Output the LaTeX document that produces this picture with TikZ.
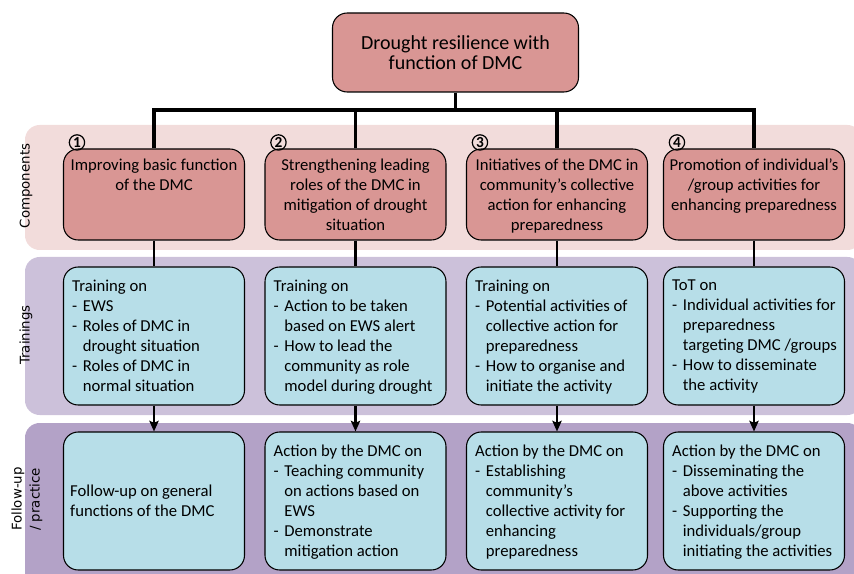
\documentclass[tikz,border=0pt]{standalone}
\usepackage{fontspec}
\setmainfont{Carlito}
\newfontfamily\sidefont{DejaVu Sans}
\usepackage{xcolor}
\usepackage{tikz}
\usetikzlibrary{arrows.meta,calc}

\definecolor{compred}{HTML}{D99694}
\definecolor{compband}{HTML}{F2DCDB}
\definecolor{trainband}{HTML}{CCC1DA}
\definecolor{followband}{HTML}{B3A2C7}
\definecolor{boxblue}{HTML}{B7DEE8}

\newcommand{\itm}{\makebox[8pt][l]{-}}
\newcommand{\hng}{\hspace*{8pt}}

\tikzset{
    band/.style={rounded corners=11pt},
    side/.style={rotate=90,inner sep=0pt,font=\sidefont\fontsize{10}{13.5}\selectfont},
    redbox/.style={draw,line width=0.8pt,fill=compred,rounded corners=11pt},
    compbox/.style={redbox,minimum width=135.75pt,minimum height=68.25pt},
    bluebox/.style={draw,line width=0.8pt,fill=boxblue,rounded corners=11pt,
        minimum width=135.75pt,minimum height=103.5pt},
    ctxt/.style={anchor=north,align=center,inner sep=0pt,font=\fontsize{12.5}{15}\selectfont},
    ltxt/.style={anchor=north west,align=left,inner sep=0pt,font=\fontsize{12.5}{15}\selectfont},
    num/.style={circle,draw,line width=0.9pt,minimum size=11.5pt,inner sep=0pt,
        font=\bfseries\fontsize{11.5}{11.5}\selectfont},
    tree/.style={line width=2.4pt},
    link/.style={line width=2pt}
}

\begin{document}
\begin{tikzpicture}[x=0.75pt,y=-0.75pt]
    \useasboundingbox (0,0) rectangle (854,574);

    % background bands
    \fill[compband,band] (25,125) rectangle (862,250);
    \fill[trainband,band] (25,257) rectangle (862,415);
    \fill[followband,band] (25,423) rectangle (862,600);

    \node[side] (lcomp) at (26,186) {Components};
    \node[side] (ltrain) at (26,335) {Trainings};
    \node[side,align=left] (lfollow) at (27,499) {Follow-up\\/ practice};

    % top
    \node[redbox,minimum width=184.5pt,minimum height=59.25pt,align=center,
        font=\fontsize{15}{15}\selectfont] (top) at (455.5,52.5)
        {Drought resilience with\\function of DMC};

    % components
    \node[compbox] (c1) at (154,194.5) {};
    \node[compbox] (c2) at (355.5,194.5) {};
    \node[compbox] (c3) at (557,194.5) {};
    \node[compbox] (c4) at (754,194.5) {};

    \node[ctxt] (c1txt) at ([yshift=-7.4pt]c1.north) {Improving basic function\\of the DMC};
    \node[ctxt] (c2txt) at ([yshift=-7.4pt]c2.north) {Strengthening leading\\roles of the DMC in\\mitigation of drought\\situation};
    \node[ctxt] (c3txt) at ([yshift=-7.4pt]c3.north) {Initiatives of the DMC in\\community’s collective\\action for enhancing\\preparedness};
    \node[ctxt] (c4txt) at ([yshift=-7.4pt]c4.north) {Promotion of individual’s\\/group activities for\\enhancing preparedness};

    \node[num] (n1) at ($(c1.north west)+(14,-6)$) {1};
    \node[num] (n2) at ($(c2.north west)+(14,-6)$) {2};
    \node[num] (n3) at ($(c3.north west)+(14,-6)$) {3};
    \node[num] (n4) at ($(c4.north west)+(14,-6)$) {4};

    % trainings
    \node[bluebox] (t1) at (154,336) {};
    \node[bluebox] (t2) at (355.5,336) {};
    \node[bluebox] (t3) at (557,336) {};
    \node[bluebox] (t4) at (754,336) {};

    \node[ltxt] (t1txt) at ([xshift=6.75pt,yshift=-10pt]t1.north west)
        {Training on\\\itm EWS\\\itm Roles of DMC in\\\hng drought situation\\\itm Roles of DMC in\\\hng normal situation};
    \node[ltxt] (t2txt) at ([xshift=6.75pt,yshift=-10pt]t2.north west)
        {Training on\\\itm Action to be taken\\\hng based on EWS alert\\\itm How to lead the\\\hng community as role\\\hng model during drought};
    \node[ltxt] (t3txt) at ([xshift=6.75pt,yshift=-10pt]t3.north west)
        {Training on\\\itm Potential activities of\\\hng collective action for\\\hng preparedness\\\itm How to organise and\\\hng initiate the activity};
    \node[ltxt] (t4txt) at ([xshift=6.75pt,yshift=-10pt]t4.north west)
        {ToT on\\\itm Individual activities for\\\hng preparedness\\\hng targeting DMC /groups\\\itm How to disseminate\\\hng the activity};

    % follow-up
    \node[bluebox] (f1) at (154,501) {};
    \node[bluebox] (f2) at (355.5,501) {};
    \node[bluebox] (f3) at (557,501) {};
    \node[bluebox] (f4) at (754,501) {};

    \node[ltxt,anchor=west] (f1txt) at ([xshift=5.25pt]f1.west)
        {Follow-up on general\\functions of the DMC};
    \node[ltxt] (f2txt) at ([xshift=6.75pt,yshift=-10pt]f2.north west)
        {Action by the DMC on\\\itm Teaching community\\\hng on actions based on\\\hng EWS\\\itm Demonstrate\\\hng mitigation action};
    \node[ltxt] (f3txt) at ([xshift=6.75pt,yshift=-10pt]f3.north west)
        {Action by the DMC on\\\itm Establishing\\\hng community’s\\\hng collective activity for\\\hng enhancing\\\hng preparedness};
    \node[ltxt] (f4txt) at ([xshift=6.75pt,yshift=-10pt]f4.north west)
        {Action by the DMC on\\\itm Disseminating the\\\hng above activities\\\itm Supporting the\\\hng individuals/group\\\hng initiating the activities};

    % connectors
    \coordinate (bar) at (455.5,110);
    \draw[tree] (top.south) -- (bar);
    \draw[tree] (c1.north) |- (bar) -| (c4.north);
    \draw[tree] (c2.north) -- (c2.north |- bar);
    \draw[tree] (c3.north) -- (c3.north |- bar);

    \draw[link] (c1.south) -- (t1.north);
    \draw[link] (c2.south) -- (t2.north);
    \draw[link] (c3.south) -- (t3.north);
    \draw[link] (c4.south) -- (t4.north);

    \draw[link,-{Stealth[length=8pt,width=7pt,inset=1.5pt]}] (t1.south) -- (f1.north);
    \draw[link,-{Stealth[length=8pt,width=7pt,inset=1.5pt]}] (t2.south) -- (f2.north);
    \draw[link,-{Stealth[length=8pt,width=7pt,inset=1.5pt]}] (t3.south) -- (f3.north);
    \draw[link,-{Stealth[length=8pt,width=7pt,inset=1.5pt]}] (t4.south) -- (f4.north);
\end{tikzpicture}
\end{document}
